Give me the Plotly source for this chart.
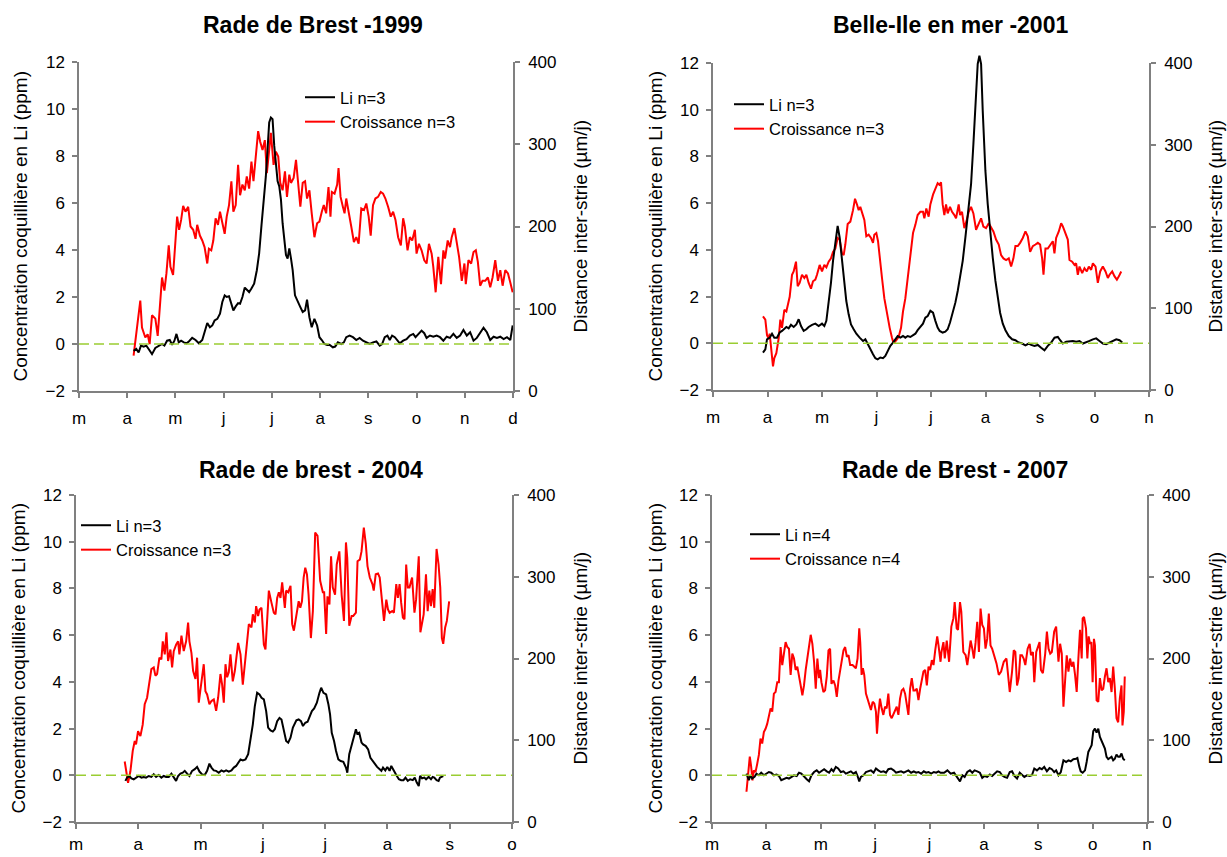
import plotly.graph_objects as go

# ---------------------------------------------------------------------------
# Data: x = month of the year as a decimal (3.0 = 1 March), Li in ppm,
# growth ("Croissance") as inter-striae distance in µm/day.
# ---------------------------------------------------------------------------
month_letters = ["m", "a", "m", "j", "j", "a", "s", "o", "n", "d"]

# --- Rade de Brest 1999 ---
gr_1999_x = [4.132, 4.271, 4.306, 4.375, 4.424, 4.465, 4.514, 4.583, 4.632, 4.688, 4.722, 4.771, 4.813, 4.861, 4.896, 4.951, 5.000, 5.035, 5.076, 5.118, 5.160, 5.208, 5.264, 5.313, 5.368, 5.417, 5.451, 5.507, 5.556, 5.604, 5.660, 5.694, 5.743, 5.785, 5.833, 5.882, 5.924, 5.972, 6.021, 6.063, 6.111, 6.160, 6.201, 6.250, 6.299, 6.340, 6.389, 6.438, 6.479, 6.528, 6.576, 6.618, 6.667, 6.715, 6.757, 6.806, 6.854, 6.896, 6.944, 6.979, 7.035, 7.083, 7.132, 7.174, 7.222, 7.271, 7.313, 7.361, 7.396, 7.451, 7.500, 7.535, 7.590, 7.639, 7.688, 7.729, 7.778, 7.826, 7.882, 7.938, 7.986, 8.035, 8.076, 8.125, 8.174, 8.215, 8.243, 8.299, 8.354, 8.382, 8.424, 8.472, 8.507, 8.542, 8.590, 8.646, 8.701, 8.750, 8.799, 8.854, 8.910, 8.958, 9.007, 9.049, 9.097, 9.146, 9.201, 9.257, 9.306, 9.354, 9.410, 9.465, 9.514, 9.563, 9.618, 9.674, 9.722, 9.757, 9.813, 9.861, 9.910, 9.965, 10.000, 10.049, 10.104, 10.160, 10.208, 10.257, 10.313, 10.347, 10.396, 10.451, 10.507, 10.556, 10.590, 10.646, 10.694, 10.729, 10.785, 10.833, 10.882, 10.938, 10.993, 11.021, 11.076, 11.132, 11.181, 11.229, 11.271, 11.319, 11.368, 11.424, 11.479, 11.528, 11.576, 11.632, 11.688, 11.736, 11.785, 11.840, 11.896, 11.944, 11.993]
gr_1999 = [43, 110, 77, 65, 69, 57, 92, 88, 67, 106, 138, 122, 143, 177, 151, 141, 187, 212, 196, 208, 225, 218, 224, 200, 196, 185, 202, 189, 183, 175, 155, 173, 171, 183, 210, 202, 218, 204, 191, 212, 226, 255, 218, 226, 275, 238, 251, 244, 261, 246, 279, 255, 287, 316, 303, 293, 305, 265, 293, 314, 275, 291, 285, 253, 244, 267, 236, 263, 253, 259, 281, 255, 224, 253, 255, 234, 244, 216, 187, 204, 206, 218, 226, 216, 248, 212, 242, 240, 251, 271, 236, 224, 216, 234, 220, 200, 181, 187, 179, 222, 220, 228, 212, 189, 226, 234, 236, 242, 240, 234, 224, 212, 218, 208, 187, 177, 210, 200, 171, 187, 183, 196, 167, 179, 171, 159, 155, 179, 167, 151, 120, 163, 130, 171, 161, 183, 175, 187, 198, 179, 163, 134, 155, 130, 159, 155, 169, 171, 157, 128, 134, 134, 138, 126, 138, 159, 134, 147, 128, 147, 143, 132, 120]
li_1999_x = [4.132, 4.188, 4.236, 4.285, 4.340, 4.396, 4.444, 4.514, 4.583, 4.653, 4.722, 4.771, 4.826, 4.882, 4.931, 4.979, 5.021, 5.069, 5.118, 5.174, 5.229, 5.278, 5.347, 5.417, 5.486, 5.556, 5.604, 5.660, 5.715, 5.764, 5.812, 5.868, 5.924, 5.972, 6.021, 6.063, 6.111, 6.160, 6.201, 6.250, 6.299, 6.340, 6.389, 6.438, 6.479, 6.528, 6.576, 6.632, 6.688, 6.736, 6.785, 6.840, 6.875, 6.910, 6.944, 6.979, 7.014, 7.049, 7.083, 7.118, 7.153, 7.188, 7.222, 7.257, 7.292, 7.326, 7.361, 7.396, 7.431, 7.479, 7.535, 7.590, 7.639, 7.688, 7.729, 7.778, 7.826, 7.882, 7.938, 7.986, 8.035, 8.090, 8.146, 8.194, 8.264, 8.313, 8.368, 8.438, 8.493, 8.542, 8.611, 8.681, 8.750, 8.820, 8.889, 8.958, 9.028, 9.097, 9.167, 9.236, 9.285, 9.340, 9.396, 9.444, 9.493, 9.549, 9.604, 9.653, 9.722, 9.792, 9.861, 9.931, 9.979, 10.035, 10.104, 10.160, 10.208, 10.278, 10.347, 10.417, 10.486, 10.556, 10.625, 10.694, 10.764, 10.833, 10.903, 10.972, 11.042, 11.111, 11.181, 11.250, 11.319, 11.389, 11.458, 11.528, 11.597, 11.667, 11.736, 11.806, 11.875, 11.944, 11.993]
li_1999 = [-0.29, -0.21, -0.36, -0.07, -0.11, -0.07, -0.21, -0.43, -0.17, -0.07, 0, -0.07, 0.14, 0.17, -0.03, 0.14, 0.43, 0.07, 0.14, 0.07, 0.03, 0.11, 0.26, 0.17, 0.03, 0.17, 0.5, 0.89, 0.71, 0.79, 1.0, 1.07, 1.29, 1.79, 2.07, 2.0, 2.03, 1.71, 1.43, 1.6, 1.74, 1.71, 2.0, 2.4, 2.29, 2.21, 2.36, 2.57, 3.14, 3.86, 5.07, 6.29, 7.14, 8.29, 9.43, 9.64, 9.57, 8.43, 7.64, 6.93, 6.71, 6.14, 5.14, 4.43, 3.79, 3.64, 4.07, 3.64, 3.14, 2.07, 1.79, 1.57, 1.36, 1.43, 1.89, 1.14, 0.71, 1.07, 0.79, 0.29, 0.17, 0, -0.04, -0.03, -0.14, -0.11, 0.07, 0, 0.07, 0.29, 0.36, 0.29, 0.17, 0.26, 0.14, 0.07, 0, 0.07, 0.11, -0.07, 0, 0.29, 0.36, 0.17, 0.36, 0.29, 0.14, 0.03, 0.14, 0.21, 0.36, 0.43, 0.29, 0.4, 0.57, 0.46, 0.26, 0.36, 0.31, 0.36, 0.29, 0.14, 0.31, 0.26, 0.43, 0.26, 0.36, 0.6, 0.36, 0.5, 0.14, 0.26, 0.5, 0.69, 0.5, 0.17, 0.31, 0.26, 0.31, 0.21, 0.29, 0.17, 0.79]

# --- Belle-Ile en mer 2001 ---
gr_2001_x = [3.917, 3.960, 3.991, 4.021, 4.040, 4.064, 4.101, 4.125, 4.162, 4.205, 4.235, 4.266, 4.309, 4.346, 4.370, 4.407, 4.450, 4.480, 4.523, 4.554, 4.590, 4.633, 4.676, 4.713, 4.755, 4.798, 4.835, 4.878, 4.908, 4.957, 5.000, 5.043, 5.080, 5.122, 5.165, 5.202, 5.245, 5.287, 5.324, 5.367, 5.398, 5.428, 5.471, 5.520, 5.569, 5.606, 5.642, 5.673, 5.703, 5.746, 5.777, 5.813, 5.856, 5.899, 5.936, 5.960, 5.997, 6.028, 6.058, 6.101, 6.144, 6.193, 6.242, 6.284, 6.315, 6.364, 6.407, 6.450, 6.486, 6.529, 6.572, 6.621, 6.670, 6.713, 6.755, 6.804, 6.853, 6.878, 6.914, 6.957, 6.988, 7.037, 7.080, 7.122, 7.153, 7.184, 7.214, 7.245, 7.276, 7.306, 7.349, 7.386, 7.429, 7.459, 7.508, 7.533, 7.569, 7.612, 7.655, 7.692, 7.735, 7.778, 7.827, 7.876, 7.919, 7.961, 8.010, 8.059, 8.102, 8.145, 8.194, 8.243, 8.286, 8.329, 8.378, 8.427, 8.470, 8.512, 8.549, 8.592, 8.635, 8.684, 8.733, 8.776, 8.819, 8.868, 8.917, 8.960, 9.002, 9.039, 9.064, 9.100, 9.143, 9.186, 9.235, 9.265, 9.296, 9.345, 9.388, 9.419, 9.468, 9.510, 9.541, 9.590, 9.633, 9.663, 9.694, 9.725, 9.774, 9.816, 9.859, 9.896, 9.939, 9.970, 10.019, 10.061, 10.104, 10.153, 10.202, 10.245, 10.276, 10.325, 10.368, 10.411, 10.447, 10.490]
gr_2001 = [90, 86, 67, 63, 69, 55, 29, 39, 45, 63, 86, 76, 98, 96, 104, 114, 141, 145, 157, 127, 131, 141, 137, 141, 131, 124, 133, 135, 141, 153, 145, 153, 150, 157, 161, 169, 173, 186, 184, 167, 165, 178, 203, 206, 220, 234, 227, 220, 224, 214, 208, 188, 190, 186, 180, 190, 192, 182, 161, 137, 112, 92, 76, 64, 57, 61, 65, 76, 96, 112, 137, 169, 192, 202, 214, 218, 218, 210, 222, 212, 227, 239, 245, 253, 251, 254, 227, 214, 227, 216, 224, 218, 214, 210, 227, 214, 218, 198, 208, 218, 224, 216, 196, 204, 210, 200, 198, 204, 198, 194, 184, 178, 165, 161, 159, 161, 151, 161, 176, 176, 180, 186, 194, 188, 169, 176, 178, 180, 178, 161, 141, 173, 173, 178, 182, 167, 186, 194, 204, 200, 190, 184, 159, 157, 153, 155, 141, 151, 143, 149, 145, 151, 147, 155, 151, 131, 145, 151, 145, 137, 141, 145, 139, 135, 139, 145]
li_2001_x = [3.917, 3.960, 3.991, 4.040, 4.083, 4.125, 4.174, 4.223, 4.266, 4.309, 4.346, 4.388, 4.431, 4.480, 4.529, 4.572, 4.615, 4.664, 4.713, 4.755, 4.817, 4.878, 4.939, 5.000, 5.043, 5.080, 5.122, 5.165, 5.202, 5.245, 5.287, 5.324, 5.367, 5.410, 5.446, 5.489, 5.532, 5.581, 5.630, 5.691, 5.752, 5.795, 5.838, 5.887, 5.936, 5.979, 6.021, 6.070, 6.119, 6.162, 6.205, 6.254, 6.303, 6.346, 6.388, 6.437, 6.486, 6.529, 6.572, 6.621, 6.670, 6.713, 6.755, 6.804, 6.853, 6.896, 6.939, 6.988, 7.037, 7.080, 7.122, 7.159, 7.214, 7.263, 7.306, 7.349, 7.398, 7.447, 7.490, 7.533, 7.582, 7.631, 7.692, 7.735, 7.778, 7.814, 7.857, 7.888, 7.919, 7.949, 7.998, 8.041, 8.084, 8.133, 8.182, 8.225, 8.268, 8.317, 8.366, 8.427, 8.488, 8.549, 8.610, 8.672, 8.733, 8.794, 8.837, 8.898, 8.960, 9.021, 9.082, 9.143, 9.205, 9.266, 9.327, 9.370, 9.419, 9.480, 9.541, 9.603, 9.664, 9.725, 9.786, 9.847, 9.909, 9.970, 10.031, 10.092, 10.154, 10.215, 10.276, 10.337, 10.399, 10.460, 10.509]
li_2001 = [-0.4, -0.26, 0.17, 0.24, 0.41, 0.24, 0.24, 0.46, 0.53, 0.6, 0.7, 0.64, 0.79, 0.7, 0.81, 1.03, 0.74, 0.53, 0.6, 0.7, 0.79, 0.84, 0.74, 0.84, 0.74, 0.96, 1.67, 2.6, 3.53, 4.39, 5.03, 4.53, 3.6, 2.53, 1.81, 1.24, 0.81, 0.6, 0.41, 0.24, 0.1, 0.17, -0.04, -0.26, -0.47, -0.64, -0.69, -0.61, -0.64, -0.54, -0.33, -0.11, 0.03, 0.17, 0.31, 0.24, 0.31, 0.24, 0.31, 0.27, 0.36, 0.41, 0.56, 0.7, 0.84, 1.1, 1.17, 1.39, 1.31, 0.96, 0.67, 0.53, 0.46, 0.5, 0.6, 0.89, 1.31, 1.74, 2.24, 2.81, 3.53, 4.53, 5.81, 6.81, 8.53, 10.39, 11.96, 12.31, 11.96, 9.96, 7.39, 5.96, 4.81, 3.67, 2.67, 1.89, 1.31, 0.84, 0.56, 0.31, 0.17, 0.13, 0.03, -0.01, -0.09, -0.01, -0.07, -0.11, -0.07, -0.19, -0.3, -0.11, 0.03, 0.24, 0.27, 0.13, -0.01, 0.07, 0.1, 0.1, 0.07, 0.1, -0.01, 0.03, 0.1, 0.17, 0.21, 0.1, -0.01, -0.04, 0.03, 0.1, 0.17, 0.13, 0.03]

# --- Rade de Brest 2004 ---
gr_2004_x = [3.782, 3.836, 3.873, 3.911, 3.943, 3.964, 3.996, 4.034, 4.071, 4.103, 4.141, 4.178, 4.210, 4.248, 4.275, 4.302, 4.339, 4.371, 4.393, 4.425, 4.452, 4.478, 4.516, 4.543, 4.569, 4.607, 4.639, 4.660, 4.693, 4.730, 4.768, 4.800, 4.821, 4.853, 4.880, 4.918, 4.944, 4.971, 5.014, 5.051, 5.078, 5.105, 5.142, 5.175, 5.212, 5.250, 5.282, 5.319, 5.346, 5.373, 5.400, 5.426, 5.453, 5.480, 5.517, 5.550, 5.603, 5.641, 5.678, 5.710, 5.748, 5.775, 5.817, 5.839, 5.871, 5.892, 5.924, 5.946, 5.978, 6.016, 6.042, 6.069, 6.096, 6.139, 6.176, 6.203, 6.230, 6.257, 6.283, 6.310, 6.353, 6.374, 6.407, 6.444, 6.471, 6.498, 6.548, 6.575, 6.601, 6.628, 6.655, 6.681, 6.708, 6.734, 6.771, 6.803, 6.840, 6.878, 6.920, 6.963, 6.984, 7.016, 7.037, 7.069, 7.095, 7.122, 7.159, 7.186, 7.228, 7.265, 7.302, 7.334, 7.355, 7.387, 7.425, 7.451, 7.494, 7.520, 7.557, 7.584, 7.621, 7.653, 7.680, 7.717, 7.759, 7.780, 7.812, 7.849, 7.876, 7.918, 7.945, 7.982, 8.009, 8.035, 8.078, 8.104, 8.142, 8.168, 8.195, 8.221, 8.248, 8.274, 8.301, 8.327, 8.354, 8.396, 8.434, 8.460, 8.503, 8.529, 8.556, 8.582, 8.619, 8.646, 8.673, 8.699, 8.726, 8.752, 8.789, 8.821, 8.848, 8.874, 8.896, 8.927, 8.954, 8.991]
gr_2004 = [74, 48, 62, 87, 99, 95, 111, 105, 119, 144, 152, 168, 187, 189, 179, 181, 201, 199, 221, 205, 232, 197, 211, 189, 209, 217, 221, 205, 228, 209, 221, 244, 221, 207, 185, 175, 201, 146, 168, 193, 160, 156, 144, 148, 150, 136, 152, 181, 168, 146, 193, 177, 183, 205, 172, 185, 219, 205, 168, 195, 221, 242, 238, 254, 244, 264, 252, 260, 262, 217, 211, 256, 283, 268, 256, 254, 274, 281, 274, 293, 262, 283, 281, 289, 242, 234, 258, 270, 262, 270, 299, 311, 303, 278, 225, 258, 354, 350, 295, 281, 281, 230, 276, 266, 325, 287, 278, 315, 331, 278, 246, 342, 323, 240, 252, 252, 256, 319, 321, 331, 360, 340, 313, 299, 291, 283, 303, 304, 299, 266, 246, 272, 260, 256, 258, 256, 291, 274, 291, 268, 250, 248, 315, 287, 287, 299, 256, 272, 325, 232, 242, 254, 303, 258, 283, 264, 285, 262, 334, 315, 287, 225, 218, 238, 246, 270]
li_2004_x = [3.793, 3.820, 3.857, 3.889, 3.927, 3.964, 4.007, 4.050, 4.087, 4.125, 4.168, 4.210, 4.248, 4.286, 4.328, 4.371, 4.409, 4.446, 4.489, 4.532, 4.569, 4.607, 4.639, 4.677, 4.714, 4.746, 4.784, 4.821, 4.864, 4.907, 4.944, 4.982, 5.025, 5.067, 5.105, 5.142, 5.175, 5.212, 5.250, 5.292, 5.335, 5.373, 5.410, 5.453, 5.496, 5.533, 5.571, 5.603, 5.641, 5.678, 5.721, 5.764, 5.801, 5.839, 5.871, 5.908, 5.946, 5.978, 6.016, 6.053, 6.085, 6.123, 6.160, 6.192, 6.230, 6.267, 6.299, 6.337, 6.374, 6.407, 6.444, 6.482, 6.514, 6.538, 6.575, 6.612, 6.644, 6.681, 6.718, 6.761, 6.787, 6.824, 6.867, 6.909, 6.936, 6.973, 7.016, 7.053, 7.079, 7.106, 7.143, 7.175, 7.212, 7.249, 7.292, 7.334, 7.356, 7.387, 7.425, 7.462, 7.494, 7.515, 7.547, 7.584, 7.610, 7.653, 7.690, 7.727, 7.759, 7.796, 7.834, 7.865, 7.903, 7.929, 7.966, 7.998, 8.035, 8.062, 8.099, 8.142, 8.184, 8.221, 8.258, 8.290, 8.327, 8.365, 8.407, 8.439, 8.471, 8.503, 8.524, 8.556, 8.593, 8.620, 8.662, 8.699, 8.726, 8.752, 8.789, 8.821, 8.843, 8.874, 8.896]
li_2004 = [-0.24, -0.1, -0.03, -0.13, -0.17, -0.1, -0.03, -0.1, -0.07, -0.1, -0.03, -0.07, 0.04, -0.07, 0.01, -0.1, -0.03, -0.07, -0.07, 0.07, -0.1, -0.24, -0.03, 0.07, 0.11, 0.19, 0.07, -0.03, 0.19, 0.26, 0.36, 0.16, 0.04, 0.01, 0.19, 0.5, 0.33, 0.21, 0.19, 0.11, 0.21, 0.16, 0.21, 0.16, 0.21, 0.33, 0.4, 0.54, 0.68, 0.64, 0.68, 0.9, 1.47, 2.18, 2.96, 3.53, 3.46, 3.32, 3.25, 2.75, 2.04, 1.92, 1.87, 1.97, 2.32, 2.46, 2.39, 1.89, 1.47, 1.4, 1.61, 2.04, 2.25, 2.35, 2.39, 2.32, 2.11, 2.25, 2.29, 2.61, 2.75, 2.86, 3.11, 3.53, 3.75, 3.53, 3.46, 3.03, 2.61, 1.82, 1.47, 1.04, 0.68, 0.61, 0.58, 0.33, 0.11, 0.9, 1.32, 1.68, 1.97, 1.78, 1.82, 1.4, 1.32, 1.25, 1.11, 0.75, 0.61, 0.5, 0.36, 0.3, 0.19, 0.33, 0.21, 0.36, 0.19, 0.4, 0.19, 0.01, -0.17, -0.21, -0.21, -0.1, -0.24, -0.17, -0.21, -0.1, -0.31, -0.46, -0.03, -0.13, -0.1, -0.17, -0.07, -0.17, -0.07, -0.1, -0.21, -0.24, -0.1, -0.07, -0.03]

# --- Rade de Brest 2007 ---
gr_2007_x = [3.634, 3.658, 3.695, 3.718, 3.745, 3.769, 3.800, 3.831, 3.862, 3.892, 3.923, 3.954, 3.985, 4.015, 4.046, 4.077, 4.108, 4.138, 4.169, 4.200, 4.231, 4.262, 4.292, 4.323, 4.354, 4.385, 4.415, 4.446, 4.477, 4.508, 4.538, 4.569, 4.600, 4.631, 4.662, 4.692, 4.723, 4.754, 4.785, 4.815, 4.846, 4.877, 4.908, 4.938, 4.969, 4.988, 5.012, 5.049, 5.080, 5.111, 5.142, 5.172, 5.197, 5.234, 5.265, 5.295, 5.326, 5.357, 5.388, 5.418, 5.449, 5.480, 5.511, 5.541, 5.585, 5.615, 5.646, 5.677, 5.708, 5.726, 5.751, 5.775, 5.800, 5.831, 5.862, 5.892, 5.923, 5.954, 5.985, 6.015, 6.034, 6.058, 6.089, 6.120, 6.151, 6.182, 6.212, 6.243, 6.274, 6.305, 6.335, 6.366, 6.397, 6.428, 6.458, 6.489, 6.520, 6.551, 6.582, 6.612, 6.643, 6.674, 6.705, 6.735, 6.766, 6.797, 6.828, 6.858, 6.889, 6.920, 6.951, 6.982, 7.012, 7.043, 7.074, 7.105, 7.142, 7.166, 7.203, 7.220, 7.256, 7.281, 7.317, 7.360, 7.402, 7.439, 7.463, 7.500, 7.524, 7.561, 7.585, 7.622, 7.665, 7.695, 7.726, 7.756, 7.787, 7.817, 7.848, 7.878, 7.909, 7.939, 7.970, 8.000, 8.030, 8.061, 8.091, 8.122, 8.152, 8.183, 8.232, 8.274, 8.317, 8.366, 8.415, 8.439, 8.476, 8.518, 8.549, 8.579, 8.610, 8.640, 8.671, 8.701, 8.732, 8.762, 8.805, 8.842, 8.866, 8.902, 8.927, 8.963, 8.988, 9.024, 9.049, 9.085, 9.128, 9.159, 9.189, 9.220, 9.250, 9.293, 9.329, 9.372, 9.402, 9.433, 9.463, 9.494, 9.524, 9.555, 9.585, 9.616, 9.646, 9.677, 9.707, 9.738, 9.768, 9.799, 9.817, 9.842, 9.878, 9.903, 9.927, 9.951, 9.976, 10.000, 10.024, 10.043, 10.073, 10.104, 10.134, 10.165, 10.195, 10.226, 10.256, 10.287, 10.317, 10.348, 10.378, 10.409, 10.439, 10.470, 10.500, 10.531, 10.549, 10.573, 10.591]
gr_2007 = [37, 53, 80, 69, 51, 63, 61, 71, 82, 102, 96, 110, 114, 120, 131, 139, 135, 157, 159, 171, 171, 214, 192, 204, 220, 214, 212, 180, 206, 200, 186, 190, 180, 167, 155, 167, 186, 200, 216, 229, 218, 196, 163, 200, 176, 186, 171, 159, 161, 178, 210, 212, 169, 173, 167, 153, 173, 184, 196, 210, 214, 202, 204, 192, 192, 190, 188, 200, 237, 220, 180, 188, 180, 157, 151, 143, 137, 147, 145, 135, 108, 131, 151, 139, 131, 141, 139, 157, 131, 127, 131, 135, 141, 131, 151, 161, 163, 157, 141, 131, 163, 176, 161, 161, 163, 149, 163, 176, 184, 186, 167, 190, 186, 198, 192, 210, 227, 216, 196, 208, 220, 200, 222, 196, 239, 249, 269, 237, 235, 269, 257, 208, 204, 192, 208, 222, 212, 200, 220, 245, 208, 261, 241, 237, 212, 224, 255, 216, 212, 206, 194, 180, 184, 196, 200, 184, 159, 184, 210, 208, 167, 176, 204, 204, 200, 192, 212, 218, 204, 208, 171, 208, 212, 220, 186, 182, 206, 233, 212, 206, 208, 233, 239, 196, 218, 206, 141, 171, 204, 184, 200, 190, 196, 180, 159, 200, 235, 200, 249, 251, 237, 200, 227, 218, 220, 171, 224, 216, 149, 147, 176, 161, 163, 178, 188, 171, 176, 159, 190, 163, 127, 122, 151, 167, 118, 135, 178]
li_2007_x = [3.634, 3.677, 3.708, 3.738, 3.782, 3.818, 3.862, 3.905, 3.954, 4.003, 4.046, 4.089, 4.138, 4.188, 4.231, 4.274, 4.323, 4.372, 4.415, 4.458, 4.508, 4.557, 4.600, 4.643, 4.692, 4.742, 4.785, 4.828, 4.877, 4.926, 4.969, 5.012, 5.062, 5.111, 5.154, 5.197, 5.234, 5.277, 5.320, 5.369, 5.418, 5.462, 5.505, 5.554, 5.603, 5.646, 5.677, 5.708, 5.738, 5.788, 5.831, 5.874, 5.923, 5.972, 6.015, 6.058, 6.108, 6.157, 6.200, 6.243, 6.292, 6.342, 6.385, 6.428, 6.477, 6.526, 6.569, 6.612, 6.662, 6.711, 6.754, 6.797, 6.846, 6.895, 6.938, 6.982, 7.031, 7.080, 7.123, 7.166, 7.203, 7.268, 7.329, 7.390, 7.451, 7.512, 7.561, 7.604, 7.646, 7.695, 7.744, 7.787, 7.829, 7.878, 7.927, 7.970, 8.012, 8.061, 8.110, 8.152, 8.195, 8.244, 8.293, 8.335, 8.378, 8.427, 8.476, 8.518, 8.561, 8.610, 8.659, 8.701, 8.744, 8.793, 8.842, 8.884, 8.927, 8.976, 9.024, 9.067, 9.110, 9.159, 9.207, 9.250, 9.293, 9.329, 9.372, 9.415, 9.463, 9.512, 9.555, 9.598, 9.646, 9.695, 9.720, 9.756, 9.781, 9.817, 9.860, 9.890, 9.921, 9.951, 9.982, 10.012, 10.043, 10.073, 10.104, 10.134, 10.165, 10.195, 10.226, 10.256, 10.287, 10.317, 10.348, 10.378, 10.409, 10.439, 10.470, 10.500, 10.531, 10.561, 10.591]
li_2007 = [0.07, -0.21, 0, -0.14, -0.07, 0.07, 0, 0.11, 0, 0.07, 0.14, 0.11, 0, 0.03, -0.03, -0.21, -0.17, -0.11, -0.14, -0.07, 0, -0.03, 0.11, 0.07, -0.07, -0.17, -0.26, 0, 0.14, 0.21, 0.11, 0.17, 0.26, 0.17, 0.11, 0.26, 0.17, 0.36, 0.29, 0.14, 0.17, 0.07, 0.11, 0.17, 0.07, 0.14, -0.03, -0.26, -0.07, 0, 0.14, 0.17, 0.21, 0.11, 0.29, 0.21, 0.14, 0.17, 0.11, 0.26, 0.29, 0.21, 0.11, 0.14, 0.17, 0.11, 0.17, 0.21, 0.11, 0.17, 0.11, 0.14, 0.07, 0.17, 0.11, 0.14, 0.07, 0.14, 0.11, 0.17, 0.11, 0.11, 0.21, 0.07, 0.11, -0.07, -0.26, 0, -0.07, 0.14, 0.21, 0.11, 0.21, 0.17, 0.11, -0.11, -0.03, -0.07, 0.03, -0.03, 0.07, 0.17, 0.14, 0, -0.07, -0.11, 0.14, 0.17, -0.03, -0.14, 0.11, 0, -0.07, 0, -0.03, 0, 0.29, 0.21, 0.31, 0.26, 0.36, 0.17, 0.31, 0.26, 0.14, 0.21, 0, 0.14, 0.64, 0.57, 0.64, 0.6, 0.69, 0.71, 0.74, 0.36, 0.17, 0.11, 0.21, 0.57, 1.0, 1.14, 1.29, 1.89, 2.0, 1.83, 2.0, 1.64, 1.46, 1.36, 1.14, 0.79, 0.69, 0.74, 0.79, 0.64, 0.71, 0.89, 0.79, 0.79, 0.93, 0.71, 0.64]

for xs, ys in [(gr_1999_x, gr_1999), (li_1999_x, li_1999), (gr_2001_x, gr_2001), (li_2001_x, li_2001),
               (gr_2004_x, gr_2004), (li_2004_x, li_2004), (gr_2007_x, gr_2007), (li_2007_x, li_2007)]:
    assert len(xs) == len(ys), (len(xs), len(ys))

# ---------------------------------------------------------------------------
# Page geometry (pixels) and styling
# ---------------------------------------------------------------------------
W, H = 1227, 857
FONT = "Liberation Sans, Arial, sans-serif"
AXIS_GREY = "#808080"
RED = "#ff0000"
ZERO_GREEN = "#9acd32"
LI_MIN, LI_MAX = -2, 12
HEADROOM = 14  # px above the top tick where the Li curve may still be drawn

panels = [
    dict(title="Rade de Brest -1999", n_months=10, li=(li_1999_x, li_1999), gr=(gr_1999_x, gr_1999),
         li_name="Li n=3", gr_name="Croissance n=3",
         box=(79, 513, 62, 391), title_pos=(313, 25), legend_pos=(342, 92),
         left_title_x=20, right_title_x=580, month_standoff=6),
    dict(title="Belle-Ile en mer -2001", n_months=9, li=(li_2001_x, li_2001), gr=(gr_2001_x, gr_2001),
         li_name="Li n=3", gr_name="Croissance n=3",
         box=(713, 1149, 63, 390), title_pos=(950, 25), legend_pos=(771, 99),
         left_title_x=655, right_title_x=1215, month_standoff=6),
    dict(title="Rade de brest - 2004", n_months=8, li=(li_2004_x, li_2004), gr=(gr_2004_x, gr_2004),
         li_name="Li n=3", gr_name="Croissance n=3",
         box=(76, 512, 495, 822), title_pos=(311, 470), legend_pos=(118, 520),
         left_title_x=18, right_title_x=580, month_standoff=1),
    dict(title="Rade de Brest - 2007", n_months=9, li=(li_2007_x, li_2007), gr=(gr_2007_x, gr_2007),
         li_name="Li n=4", gr_name="Croissance n=4",
         box=(712, 1147, 495, 822), title_pos=(955, 470), legend_pos=(787, 529),
         left_title_x=655, right_title_x=1215, month_standoff=1),
]

tick_font = dict(family=FONT, size=17, color="black")
axis_style = dict(showline=True, linecolor=AXIS_GREY, linewidth=1.5, ticks="outside", ticklen=5,
                  tickcolor=AXIS_GREY, tickwidth=1.5, showgrid=False, zeroline=False,
                  automargin=False, tickfont=tick_font, fixedrange=True)

fig = go.Figure()
layout = dict(template="none", width=W, height=H, autosize=False,
              margin=dict(l=0, r=0, t=0, b=0, pad=0),
              paper_bgcolor="white", plot_bgcolor="rgba(0,0,0,0)", showlegend=True,
              font=dict(family=FONT, color="black"))
shapes, annotations = [], []

for i, p in enumerate(panels, start=1):
    x_id = "x" if i == 1 else f"x{i}"
    gr_axis_num, li_axis_num, li_draw_num = 2 * i - 1, 2 * i, 8 + i
    gr_y_id = "y" if gr_axis_num == 1 else f"y{gr_axis_num}"
    li_y_id = f"y{li_axis_num}"
    li_draw_id = f"y{li_draw_num}"
    legend_id = "legend" if i == 1 else f"legend{i}"

    x0, x1, ytop, ybot = p["box"]
    xdom = [x0 / W, x1 / W]
    ydom = [1 - ybot / H, 1 - ytop / H]
    n = p["n_months"]
    px_per_ppm = (ybot - ytop) / (LI_MAX - LI_MIN)

    layout["xaxis" if i == 1 else f"xaxis{i}"] = dict(
        domain=xdom, anchor=gr_y_id, range=[3, 3 + n - 1],
        tickmode="array", tickvals=list(range(3, 3 + n)), ticktext=month_letters[:n],
        ticklabelstandoff=p["month_standoff"], **axis_style)
    # growth axis (right side)
    layout["yaxis" if gr_axis_num == 1 else f"yaxis{gr_axis_num}"] = dict(
        domain=ydom, anchor=x_id, side="right", range=[0, 400], dtick=100,
        ticklabelstandoff=5, **axis_style)
    # Li concentration axis (left side)
    layout[f"yaxis{li_axis_num}"] = dict(
        anchor=x_id, overlaying=gr_y_id, side="left", range=[LI_MIN, LI_MAX], dtick=2,
        ticklabelstandoff=4, **axis_style)
    # hidden twin of the Li axis, same scale, with a little headroom so a peak
    # above the top tick is not clipped
    layout[f"yaxis{li_draw_num}"] = dict(
        domain=[ydom[0], 1 - (ytop - HEADROOM) / H], anchor=x_id, visible=False,
        automargin=False, range=[LI_MIN, LI_MAX + HEADROOM / px_per_ppm], fixedrange=True)

    fig.add_trace(go.Scatter(x=p["gr"][0], y=p["gr"][1], xaxis=x_id, yaxis=gr_y_id,
                             mode="lines", line=dict(color=RED, width=2),
                             name=p["gr_name"], legend=legend_id, legendrank=2))
    fig.add_trace(go.Scatter(x=p["li"][0], y=p["li"][1], xaxis=x_id, yaxis=li_draw_id,
                             mode="lines", line=dict(color="black", width=2),
                             name=p["li_name"], legend=legend_id, legendrank=1))

    # zero line of the Li scale
    shapes.append(dict(type="line", xref=f"{x_id} domain", yref=li_y_id,
                       x0=0, x1=1, y0=0, y1=0, layer="above",
                       line=dict(color=ZERO_GREEN, width=1.5, dash="10px,5px")))

    lx, ly = p["legend_pos"]
    layout[legend_id] = dict(x=(lx - 42) / W, y=1 - (ly - 12) / H, xref="paper", yref="paper",
                             xanchor="left", yanchor="top", bgcolor="rgba(0,0,0,0)",
                             borderwidth=0,
                             font=dict(family=FONT, size=16.5, color="black"),
                             tracegroupgap=0, itemclick=False, itemdoubleclick=False)

    tx, ty = p["title_pos"]
    annotations.append(dict(text=f"<b>{p['title']}</b>", xref="paper", yref="paper",
                            x=tx / W, y=1 - ty / H, xanchor="center", yanchor="middle",
                            showarrow=False, font=dict(family=FONT, size=23, color="black")))
    ymid = 1 - (ytop + ybot) / 2 / H
    annotations.append(dict(text="Concentration coquillière en Li (ppm)", xref="paper", yref="paper",
                            x=p["left_title_x"] / W, y=ymid, xanchor="center", yanchor="middle",
                            textangle=-90, showarrow=False,
                            font=dict(family=FONT, size=19, color="black")))
    annotations.append(dict(text="Distance inter-strie (µm/j)", xref="paper", yref="paper",
                            x=p["right_title_x"] / W, y=ymid, xanchor="center", yanchor="middle",
                            textangle=-90, showarrow=False,
                            font=dict(family=FONT, size=19, color="black")))

layout["shapes"] = shapes
layout["annotations"] = annotations
fig.update_layout(**layout)
fig.write_html("out.html",
               post_script="document.body.style.margin='0';document.body.style.overflow='hidden';")
